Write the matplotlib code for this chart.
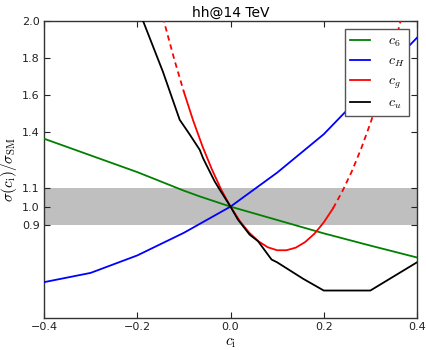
import matplotlib
matplotlib.use("Agg")
import matplotlib.pyplot as plt
import numpy as np

plt.rcParams['mathtext.fontset'] = 'cm'
plt.rcParams['font.family'] = ['DejaVu Sans']

# ---- data ----
c6_x = [-0.4, -0.3, -0.2, -0.1, -0.066, -0.03, 0.0, 0.1, 0.2, 0.3, 0.4]
c6_y = [1.366, 1.276, 1.186, 1.086, 1.055, 1.025, 1.0, 0.928, 0.856, 0.79, 0.726]

cH_x = [-0.4, -0.3, -0.2, -0.1, 0.0, 0.1, 0.2, 0.3, 0.4]
cH_y = [0.593, 0.643, 0.737, 0.859, 1.0, 1.183, 1.39, 1.65, 1.91]

cg_x = [-0.16, -0.14, -0.12, -0.10, -0.08, -0.06, -0.04, -0.02, 0.00, 0.02, 0.04,
        0.06, 0.08, 0.10, 0.12, 0.14, 0.16, 0.18, 0.20, 0.22, 0.24, 0.26, 0.28,
        0.30, 0.32, 0.34, 0.36, 0.38]
cg_y = [2.17, 1.973, 1.788, 1.618, 1.463, 1.324, 1.201, 1.092, 1.000, 0.922, 0.860,
        0.813, 0.781, 0.765, 0.765, 0.779, 0.809, 0.854, 0.915, 0.991, 1.083, 1.189,
        1.311, 1.449, 1.602, 1.770, 1.953, 2.152]
cg_solid_range = (-0.10, 0.22)

cu_x = [-0.2, -0.1875, -0.145, -0.109, -0.087, -0.066, -0.059, -0.052, -0.034,
        -0.023, 0.0, 0.016, 0.041, 0.059, 0.088, 0.1, 0.156, 0.2, 0.3, 0.4]
cu_y = [2.085, 2.0, 1.727, 1.468, 1.387, 1.306, 1.262, 1.226, 1.136,
        1.091, 1.0, 0.93, 0.849, 0.814, 0.715, 0.70, 0.611, 0.548, 0.548, 0.70]

yticks = [0.9, 1.0, 1.1, 1.4, 1.6, 1.8, 2.0]
xticks = [-0.4, -0.2, 0.0, 0.2, 0.4]

# ---- figure ----
fig = plt.figure(figsize=(4.26, 3.5), dpi=100)
ax = fig.add_axes([44/426, 1-318/350, (417-44)/426, (318-21)/350])

ax.axhspan(0.9, 1.1, color='#bfbfbf', lw=0, zorder=1)

lw = 1.3
ax.plot(c6_x, c6_y, color=(0, 0.5, 0), lw=lw, label=r'$c_6$', zorder=3)
ax.plot(cH_x, cH_y, color=(0, 0, 1), lw=lw, label=r'$c_H$', zorder=3)

cgx = np.array(cg_x); cgy = np.array(cg_y)
m = (cgx >= cg_solid_range[0] - 1e-9) & (cgx <= cg_solid_range[1] + 1e-9)
ax.plot(cgx[m], cgy[m], color=(1, 0, 0), lw=lw, label=r'$c_g$', zorder=3)
left = cgx <= cg_solid_range[0] + 1e-9
right = cgx >= cg_solid_range[1] - 1e-9
dash = (0, (3.0, 2.2))
ax.plot(cgx[left], cgy[left], color=(1, 0, 0), lw=lw, ls=dash, zorder=3)
ax.plot(cgx[right], cgy[right], color=(1, 0, 0), lw=lw, ls=dash, zorder=3)

ax.plot(cu_x, cu_y, color='k', lw=lw, label=r'$c_u$', zorder=4)

ax.set_xlim(-0.4, 0.4)
ax.set_ylim(0.4, 2.0)
ax.set_xticks(xticks)
ax.set_yticks(yticks)
ax.set_xticklabels(['\u22120.4', '\u22120.2', '0.0', '0.2', '0.4'])
ax.set_yticklabels(['0.9', '1.0', '1.1', '1.4', '1.6', '1.8', '2.0'])
ax.tick_params(direction='in', top=True, right=True, length=4, width=0.8,
               labelsize=8, colors='#222222', pad=3)
for s in ax.spines.values():
    s.set_color('#333333')
    s.set_linewidth(1.0)

ax.set_title('hh@14 TeV', fontsize=10, pad=3)
ax.set_xlabel(r'$c_{\rm i}$', fontsize=11, labelpad=2)
ax.set_ylabel(r'$\sigma(c_{\rm i})/\sigma_{\rm SM}$', fontsize=11, labelpad=2)

leg = ax.legend(loc='upper right', fontsize=10, handlelength=1.45,
                labelspacing=0.33, borderaxespad=0.58, fancybox=False,
                framealpha=1, handletextpad=1.25, borderpad=0.35)
leg.get_frame().set_edgecolor('#555555')
leg.get_frame().set_linewidth(1.0)

fig.savefig('out.png', dpi=100)
